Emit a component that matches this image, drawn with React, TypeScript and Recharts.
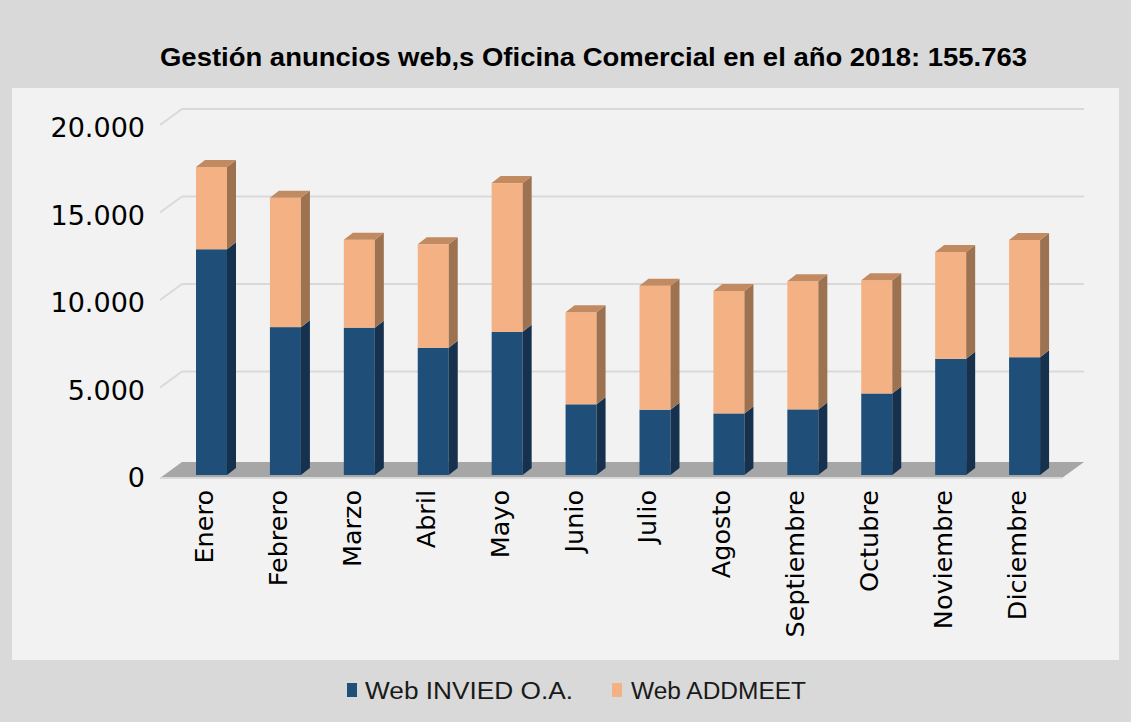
// Gestión anuncios web — stacked columns with a faux-3D depth (side + top faces).

import { BarChart, Bar, XAxis, YAxis, CartesianGrid } from 'recharts';

const months = [
  'Enero', 'Febrero', 'Marzo', 'Abril', 'Mayo', 'Junio',
  'Julio', 'Agosto', 'Septiembre', 'Octubre', 'Noviembre', 'Diciembre',
];
const webInvied = [12900, 8450, 8420, 7270, 8180, 4040, 3730, 3520, 3750, 4660, 6640, 6730];
const webAddmeet = [4700, 7390, 5030, 5910, 8500, 5260, 7090, 7000, 7320, 6470, 6100, 6703];
const yTicks = [0, 5000, 10000, 15000, 20000];

const TITLE = 'Gestión anuncios web,s Oficina Comercial en el año 2018: 155.763';
const SERIES_A = 'Web INVIED O.A.';
const SERIES_B = 'Web ADDMEET';

const data = months.map((m, i) => ({ m, a: webInvied[i], b: webAddmeet[i] }));

const W = 1131;
const H = 722;
// depth offsets for the bars and for the back wall
const BAR_DX = 9;
const BAR_DY = 7;
const WALL_DX = 22;
const WALL_DY = 16;
const WALL_LEFT = 15;

const BLUE = { front: '#1f4e79', side: '#15314d', top: '#2b5f8f' };
const ORANGE = { front: '#f4b183', side: '#9d7250', top: '#c28a60' };

const fmt = (v: number) => String(v).replace(/\B(?=(\d{3})+(?!\d))/g, '.');

function Block(props: any, c: typeof BLUE, withTop: boolean) {
  const { x, y, width: w, height: h } = props;
  if (!h || h <= 0) return null;
  return (
    <g>
      <rect x={x} y={y} width={w} height={h} fill={c.front} />
      <polygon
        points={`${x + w},${y} ${x + w + BAR_DX},${y - BAR_DY} ${x + w + BAR_DX},${y + h - BAR_DY} ${x + w},${y + h}`}
        fill={c.side}
      />
      {withTop && (
        <polygon
          points={`${x},${y} ${x + BAR_DX},${y - BAR_DY} ${x + w + BAR_DX},${y - BAR_DY} ${x + w},${y}`}
          fill={c.top}
        />
      )}
    </g>
  );
}

// back-wall gridline + left wall diagonal; the bottom one becomes the floor
function GridLine(props: any) {
  const { x1, x2, y1, index } = props;
  const fx = x1 - WALL_LEFT;
  if (index === 0) {
    return (
      <g key={`g${index}`}>
        <polygon
          points={`${fx},${y1 + 3} ${fx + WALL_DX},${y1 - WALL_DY + 3} ${x2 + WALL_DX},${y1 - WALL_DY + 3} ${x2},${y1 + 3}`}
          fill="#a6a6a6"
        />
        <line x1={fx} y1={y1 + 3} x2={x2} y2={y1 + 3} stroke="#d9d9d9" strokeWidth={2} />
      </g>
    );
  }
  return (
    <g key={`g${index}`}>
      <line x1={fx} y1={y1} x2={fx + WALL_DX} y2={y1 - WALL_DY} stroke="#d9d9d9" strokeWidth={2} />
      <line x1={fx + WALL_DX} y1={y1 - WALL_DY} x2={x2 + WALL_DX} y2={y1 - WALL_DY} stroke="#d9d9d9" strokeWidth={2} />
    </g>
  );
}

function MonthTick(props: any) {
  const { x, y, payload } = props;
  return (
    <text
      transform={`translate(${x + 1},${y + 15}) rotate(-90)`}
      textAnchor="end"
      fontSize={25.5}
      fontFamily="DejaVu Sans, Verdana, sans-serif"
      fill="#000"
    >
      {payload.value}
    </text>
  );
}

function ValueTick(props: any) {
  const { x, y, payload } = props;
  return (
    <text x={x - 30} y={y} dy={12} textAnchor="end" fontSize={27} fontFamily="DejaVu Sans, Verdana, sans-serif" fill="#000">
      {fmt(payload.value)}
    </text>
  );
}

export default function App() {
  const font = '"Liberation Sans Narrow", "Liberation Sans", Arial, sans-serif';
  return (
    <div style={{ position: 'absolute', left: 0, top: 0, width: W, height: H, background: '#d9d9d9' }}>
      <div style={{ position: 'absolute', left: 12, top: 88, width: 1107, height: 572, background: '#f2f2f2' }} />
      <div style={{ position: 'absolute', left: 0, top: 0 }}>
        <BarChart width={W} height={H} data={data} margin={{ top: 125, right: 69, bottom: 67, left: 0 }} barSize={31}>
          <CartesianGrid vertical={false} horizontal={GridLine as any} />
          <XAxis dataKey="m" height={180} tickLine={false} axisLine={false} tickSize={0} tickMargin={0} tick={MonthTick} interval={0} />
          <YAxis width={175} domain={[0, 20000]} ticks={yTicks} tickLine={false} axisLine={false} tickSize={0} tickMargin={0} tick={ValueTick} />
          <Bar dataKey="a" stackId="s" isAnimationActive={false} shape={(p: any) => Block(p, BLUE, false)} />
          <Bar dataKey="b" stackId="s" isAnimationActive={false} shape={(p: any) => Block(p, ORANGE, true)} />
        </BarChart>
      </div>
      <svg width={W} height={H} style={{ position: 'absolute', left: 0, top: 0, pointerEvents: 'none' }}>
        <text x={160} y={66} fontSize={26} fontWeight="bold" fontFamily={font} fill="#000" textLength={867} lengthAdjust="spacingAndGlyphs">
          {TITLE}
        </text>
        <rect x={347} y={683} width={10} height={14} fill={BLUE.front} />
        <text x={365} y={699} fontSize={23} fontFamily={font} fill="#1a1a1a" textLength={208} lengthAdjust="spacingAndGlyphs">
          {SERIES_A}
        </text>
        <rect x={612} y={683} width={10} height={14} fill={ORANGE.front} />
        <text x={631} y={699} fontSize={23} fontFamily={font} fill="#1a1a1a" textLength={175} lengthAdjust="spacingAndGlyphs">
          {SERIES_B}
        </text>
      </svg>
    </div>
  );
}
